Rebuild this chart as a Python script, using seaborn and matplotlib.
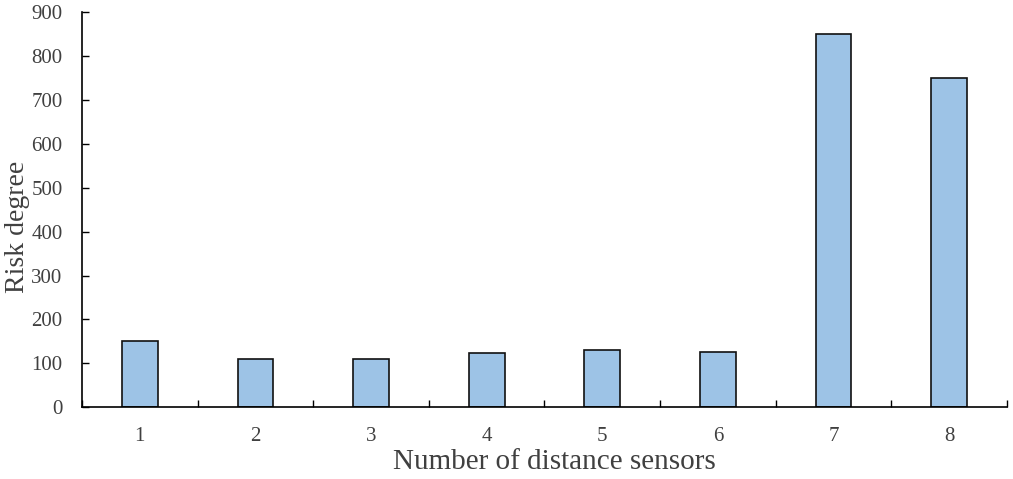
import matplotlib
matplotlib.use("Agg")
import matplotlib.pyplot as plt
import seaborn as sb
import numpy as np
import pandas as pd

sensors = ["1", "2", "3", "4", "5", "6", "7", "8"]
risk = [150, 110, 110, 123, 130, 125, 850, 750]
y_ticks = [0, 100, 200, 300, 400, 500, 600, 700, 800, 900]

df = pd.DataFrame({"sensors": sensors, "risk": risk})

sb.set_style("white")
plt.rcParams['font.family'] = ['Liberation Serif', 'DejaVu Serif']

fig = plt.figure(figsize=(10.13, 4.79), dpi=100)
ax = fig.add_axes([0.081, 0.150, 0.913, 0.824])

sb.barplot(data=df, x="sensors", y="risk", color="#9DC3E6", edgecolor="#111111",
           linewidth=1.2, width=0.31, saturation=1, ax=ax)

ax.set_xlim(-0.5, 7.5)
ax.set_ylim(0, 900)
ax.set_yticks(y_ticks)
ax.set_xticks(np.arange(-0.5, 8, 1), minor=True)
ax.tick_params(axis='x', which='major', length=0, pad=14, labelsize=15, labelcolor="#404040")
ax.tick_params(axis='x', which='minor', direction='in', length=5, width=1, color="black", bottom=True)
ax.tick_params(axis='y', direction='in', length=5, width=1, color="black", pad=14,
               labelsize=15, labelcolor="#404040", left=True)

for s in ["top", "right"]:
    ax.spines[s].set_visible(False)
for s in ["left", "bottom"]:
    ax.spines[s].set_color("black")
    ax.spines[s].set_linewidth(1.2)

ax.set_xlabel("Number of distance sensors", fontsize=21, color="#404040")
ax.xaxis.set_label_coords(0.511, -0.105)
ax.set_ylabel("Risk degree", fontsize=20, color="#404040")
ax.yaxis.set_label_coords(-0.056, 0.456)

fig.savefig("out.png", dpi=100)
